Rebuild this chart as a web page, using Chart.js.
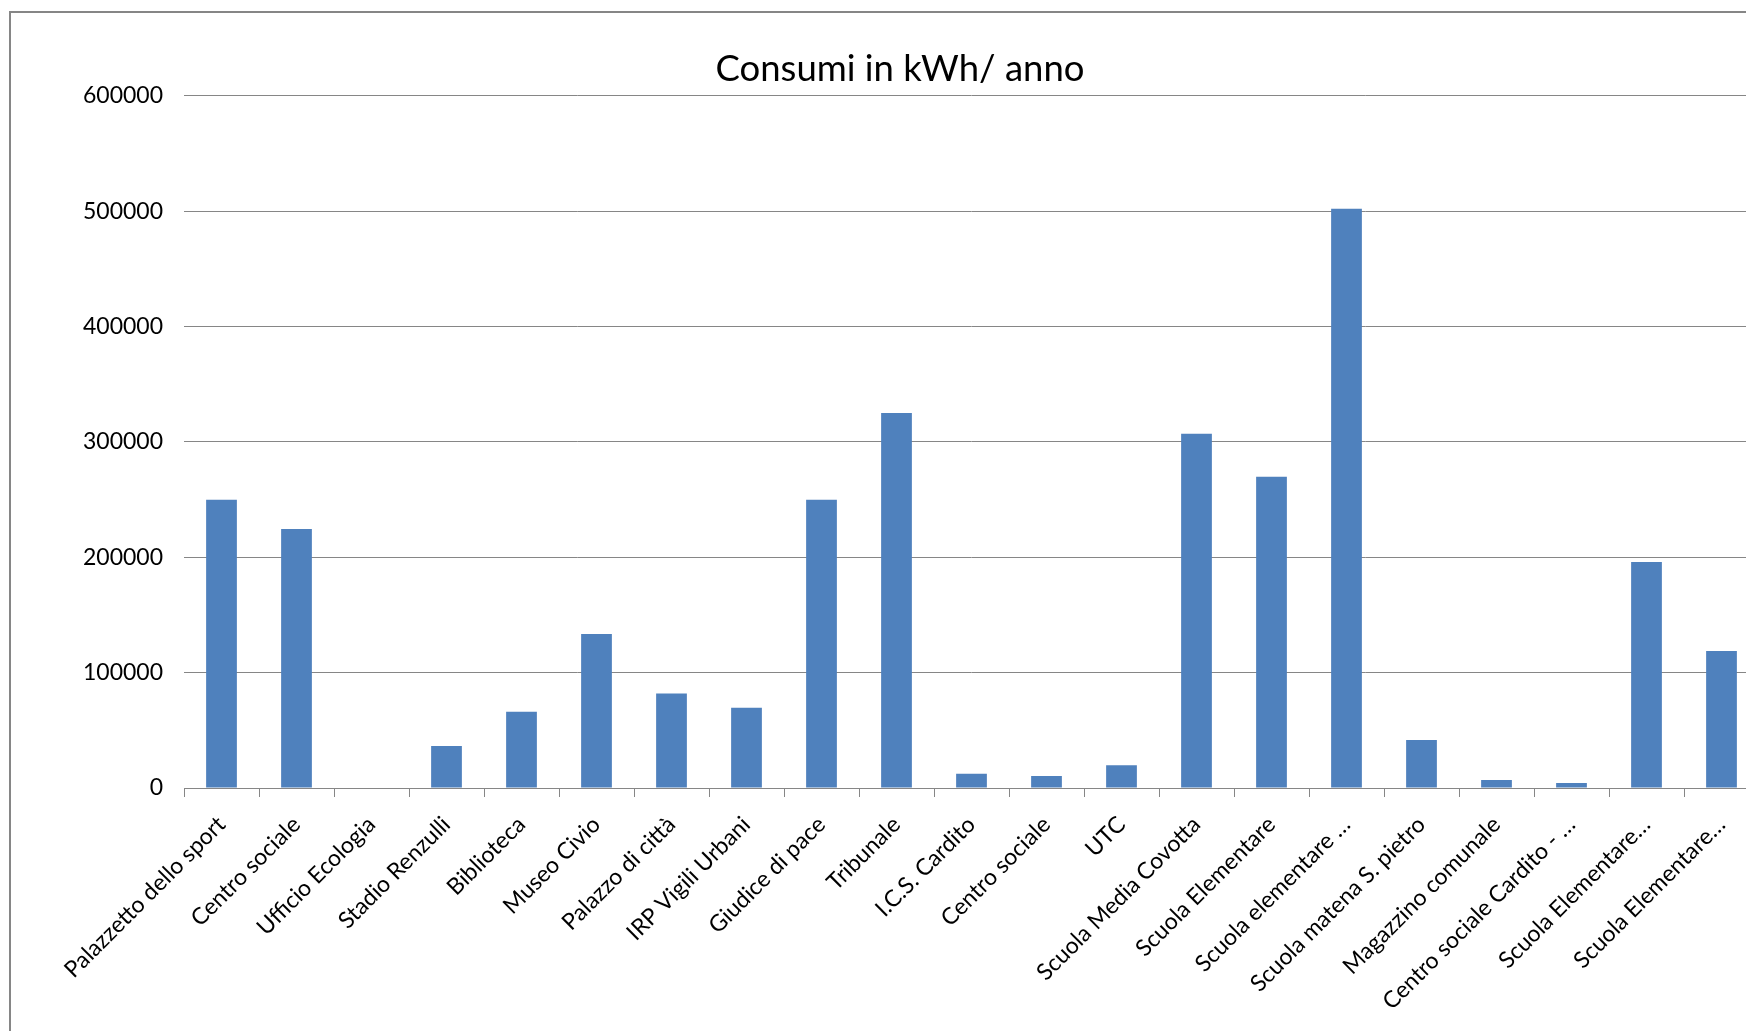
<!DOCTYPE html>
<html lang="it">

<head>
    <meta charset="UTF-8">
    <title>Consumi in kWh/ anno</title>
    <script src="https://cdn.jsdelivr.net/npm/chart.js"></script>
    <style>
        body {
            margin: 0;
            background: #ffffff;
            overflow: hidden;
        }

        .chart-box {
            position: absolute;
            left: 9px;
            top: 11px;
            border: 2px solid #868686;
            background: #ffffff;
        }

        canvas {
            display: block;
        }
    </style>
</head>

<body>
    <div class="chart-box">
        <canvas id="consumiChart" width="1776" height="1060"></canvas>
    </div>

    <script>
        // edifici comunali (categorie asse x)
        const edifici = [
            'Palazzetto dello sport', 'Centro sociale', 'Ufficio Ecologia', 'Stadio Renzulli',
            'Biblioteca', 'Museo Civio', 'Palazzo di città', 'IRP Vigili Urbani',
            'Giudice di pace', 'Tribunale', 'I.C.S. Cardito', 'Centro sociale', 'UTC',
            'Scuola Media Covotta', 'Scuola Elementare', 'Scuola elementare …',
            'Scuola matena S. pietro', 'Magazzino comunale', 'Centro sociale Cardito - …',
            'Scuola Elementare…', 'Scuola Elementare…'
        ];

        // consumi annui in kWh
        const consumi = [
            249800, 224500, 0, 36500,
            66000, 133500, 82000, 69500,
            249800, 325000, 12300, 10500, 19800,
            307000, 269700, 502000,
            41600, 6900, 4300,
            196000, 118800
        ];

        const yMin = 0;
        const yMax = 600000;
        const yStep = 100000;

        const grigio = '#868686';
        const blu = '#4F81BD';

        Chart.defaults.font.family = 'Lato, "Open Sans", sans-serif';
        Chart.defaults.color = '#000000';

        const ctx = document.getElementById('consumiChart').getContext('2d');
        const consumiChart = new Chart(ctx, {
            type: 'bar',
            data: {
                labels: edifici,
                datasets: [{
                    label: 'Consumi in kWh/ anno',
                    data: consumi,
                    backgroundColor: blu,
                    borderWidth: 0,
                    barPercentage: 0.41,
                    categoryPercentage: 1.0
                }]
            },
            options: {
                responsive: false,
                animation: false,
                layout: {
                    // left/right padding kept equal so the title stays centred on the whole chart
                    padding: { left: 30, right: 28, top: 0, bottom: 0 }
                },
                plugins: {
                    legend: { display: false },
                    tooltip: { enabled: false },
                    title: {
                        display: true,
                        text: 'Consumi in kWh/ anno',
                        color: '#000000',
                        font: { size: 36.5, weight: 'normal' },
                        padding: { top: 34, bottom: 5 }
                    }
                },
                scales: {
                    x: {
                        grid: {
                            display: true,
                            offset: true,
                            drawOnChartArea: false,
                            drawTicks: true,
                            tickLength: 9,
                            color: grigio,
                            lineWidth: 1
                        },
                        border: { display: true, color: grigio, width: 1 },
                        ticks: {
                            autoSkip: false,
                            minRotation: 45,
                            maxRotation: 45,
                            padding: 14,
                            font: { size: 23 }
                        },
                        afterFit: (scale) => { scale.height = 285; }
                    },
                    y: {
                        min: yMin,
                        max: yMax,
                        ticks: {
                            stepSize: yStep,
                            padding: 21,
                            font: { size: 23 },
                            callback: (v) => String(v)
                        },
                        grid: {
                            color: grigio,
                            lineWidth: 1,
                            drawTicks: false
                        },
                        border: { display: false },
                        afterFit: (scale) => { scale.width = 143; }
                    }
                }
            }
        });
    </script>
</body>

</html>
